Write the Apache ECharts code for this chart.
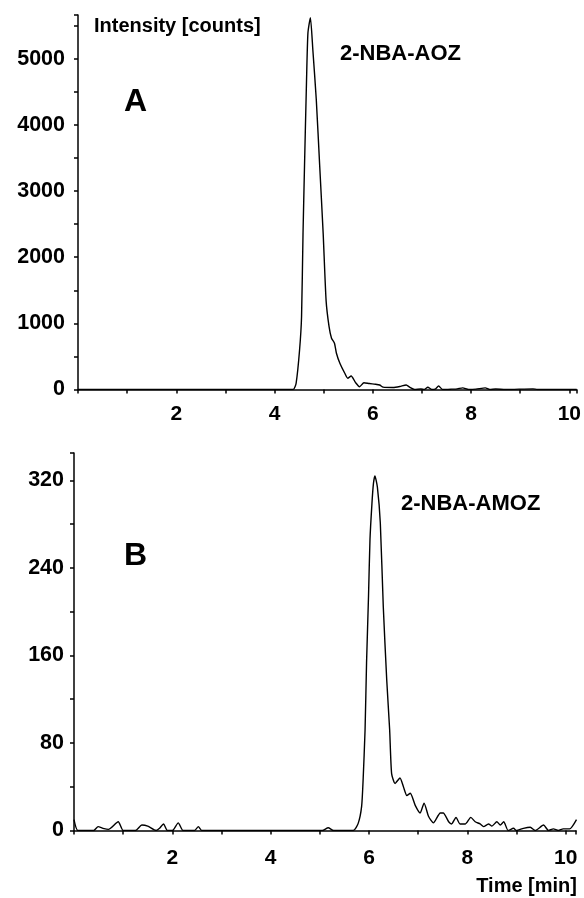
<!DOCTYPE html>
<html>
<head>
<meta charset="utf-8">
<script src="https://cdn.jsdelivr.net/npm/echarts@6/dist/echarts.min.js"></script>
<style>
  html, body { margin: 0; padding: 0; background: #fff; }
  #chart { width: 584px; height: 898px; }
</style>
</head>
<body>
<div id="chart"></div>
<script>
// Chromatogram A: 2-NBA-AOZ  [time (min), intensity (counts)]
var aozTrace = [
  [0, 0], [1.0, 0], [2.0, 0], [3.0, 0], [4.0, 0], [4.38, 0], [4.44, 98], [4.51, 600],
  [4.55, 1100], [4.58, 2360], [4.61, 3370], [4.65, 4630], [4.68, 5390], [4.73, 5620],
  [4.78, 5130], [4.85, 4380], [4.92, 3370], [4.99, 2360], [5.05, 1340], [5.11, 950],
  [5.16, 775], [5.22, 700], [5.26, 548], [5.33, 396], [5.43, 245], [5.49, 170],
  [5.56, 204], [5.65, 103], [5.73, 42], [5.82, 103], [5.93, 90], [6.05, 80], [6.14, 68],
  [6.21, 35], [6.41, 30], [6.55, 45], [6.68, 68], [6.75, 35], [6.85, 0], [6.98, 8],
  [7.05, 0], [7.12, 35], [7.2, 0], [7.27, 5], [7.34, 53], [7.42, 0], [7.6, 5],
  [7.72, 10], [7.83, 25], [7.95, 0], [8.1, 5], [8.29, 25], [8.38, 0], [8.5, 8],
  [8.7, 0], [9.26, 10], [9.35, 0], [10.15, 0]
];

// Chromatogram B: 2-NBA-AMOZ  [time (min), intensity (counts)]
var amozTrace = [
  [0, 10], [0.08, 0], [0.4, 0], [0.49, 3.5], [0.59, 2], [0.7, 1], [0.9, 8], [1.0, 0],
  [1.25, 0], [1.38, 5], [1.5, 4], [1.67, 0], [1.74, 2], [1.82, 6], [1.9, 0], [2.0, 0],
  [2.12, 7], [2.22, 0], [2.45, 0], [2.53, 3.5], [2.6, 0], [5.05, 0], [5.17, 2.5],
  [5.28, 0], [5.68, 0], [5.78, 6.5], [5.85, 22], [5.88, 46], [5.92, 92], [5.95, 153],
  [5.99, 214], [6.02, 266], [6.06, 299], [6.09, 317], [6.12, 324], [6.17, 314],
  [6.23, 281], [6.29, 205], [6.36, 138], [6.42, 92], [6.46, 52], [6.53, 43], [6.63, 48],
  [6.7, 40], [6.77, 32], [6.84, 34], [6.94, 23], [7.04, 16], [7.12, 25], [7.21, 13],
  [7.31, 7], [7.45, 16], [7.51, 16], [7.62, 8], [7.68, 6], [7.77, 12], [7.85, 6],
  [7.96, 6], [8.07, 12], [8.16, 8], [8.26, 6], [8.33, 3.5], [8.43, 6], [8.5, 4],
  [8.6, 8], [8.67, 5], [8.74, 8], [8.83, 0], [8.94, 2], [9.0, 0], [9.14, 2], [9.28, 3],
  [9.38, 0], [9.55, 5], [9.65, 0], [9.75, 1.5], [9.85, 0], [9.95, 1.5], [10.08, 1.5],
  [10.22, 10]
];

var timeMaxA = 10.15, timeMaxB = 10.21;
var countMaxA = 5660, countMaxB = 345;

var FONT = '"Liberation Sans", Arial, Helvetica, sans-serif';
var myChart = echarts.init(document.getElementById('chart'));

function xAxisFor(idx, maxVal, margin) {
  return {
    type: 'value', gridIndex: idx, min: 0, max: maxVal, interval: 1,
    axisLine: { lineStyle: { color: '#000', width: 1.5 } },
    axisTick: { show: true, length: 4, lineStyle: { color: '#000', width: 1.5 } },
    splitLine: { show: false },
    axisLabel: {
      margin: margin, color: '#000', fontFamily: FONT, fontWeight: 'bold', fontSize: 21,
      showMaxLabel: true,
      formatter: function (v) { return (v > 0 && v <= 10 && Math.abs(v % 2) < 1e-9) ? String(v) : ''; }
    }
  };
}

function yAxisFor(idx, maxVal, step, labelStep, margin) {
  return {
    type: 'value', gridIndex: idx, min: 0, max: maxVal, interval: step,
    axisLine: { show: true, lineStyle: { color: '#000', width: 1.5 } },
    axisTick: { show: true, length: 4, lineStyle: { color: '#000', width: 1.5 } },
    splitLine: { show: false },
    axisLabel: {
      margin: margin, color: '#000', fontFamily: FONT, fontWeight: 'bold', fontSize: 21.5,
      formatter: function (v) { return (v % labelStep === 0) ? String(v) : ''; }
    }
  };
}

var option = {
  animation: false,
  backgroundColor: '#fff',
  grid: [
    { left: 78, right: 7, top: 15, bottom: 508.5 },
    { left: 74, right: 8, top: 453, bottom: 67.5 }
  ],
  xAxis: [xAxisFor(0, timeMaxA, 14), xAxisFor(1, timeMaxB, 17)],
  yAxis: [yAxisFor(0, countMaxA, 500, 1000, 13), yAxisFor(1, countMaxB, 40, 80, 10)],
  series: [
    {
      name: '2-NBA-AOZ', type: 'line', xAxisIndex: 0, yAxisIndex: 0,
      data: aozTrace, showSymbol: false, smooth: 0.2,
      lineStyle: { color: '#000', width: 1.4 }
    },
    {
      name: '2-NBA-AMOZ', type: 'line', xAxisIndex: 1, yAxisIndex: 1,
      data: amozTrace, showSymbol: false, smooth: 0.2,
      lineStyle: { color: '#000', width: 1.4 }
    }
  ],
  graphic: [
    { type: 'text', left: 94, top: 16, style: { text: 'Intensity [counts]', fill: '#000', font: 'bold 20px ' + FONT } },
    { type: 'text', left: 124, top: 86, style: { text: 'A', fill: '#000', font: 'bold 32px ' + FONT } },
    { type: 'text', left: 340, top: 43, style: { text: '2-NBA-AOZ', fill: '#000', font: 'bold 22px ' + FONT } },
    { type: 'text', left: 124, top: 540, style: { text: 'B', fill: '#000', font: 'bold 32px ' + FONT } },
    { type: 'text', left: 401, top: 493, style: { text: '2-NBA-AMOZ', fill: '#000', font: 'bold 22px ' + FONT } },
    { type: 'text', right: 7, top: 876, style: { text: 'Time [min]', fill: '#000', font: 'bold 20px ' + FONT } }
  ]
};

if (option && typeof option === "object") {
  myChart.setOption(option, true);
}
</script>
</body>
</html>
